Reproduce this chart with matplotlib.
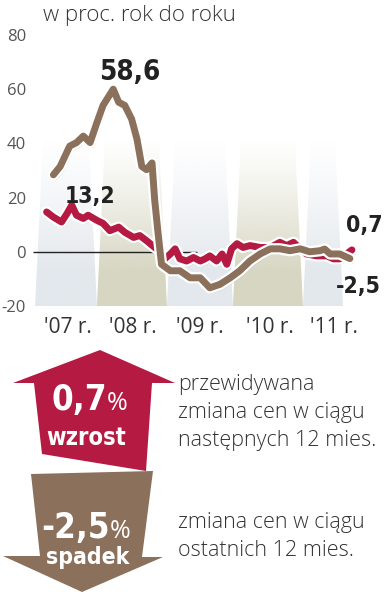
import numpy as np
import matplotlib
matplotlib.use("Agg")
import matplotlib.pyplot as plt
import matplotlib.patheffects as pe
from matplotlib import font_manager as fm
from matplotlib.patches import Polygon


def has_font(name):
    try:
        fm.findfont(fm.FontProperties(family=name), fallback_to_default=False)
        return True
    except ValueError:
        return False


# bold condensed face for the numbers, if there is one
narrow = sorted(f.fname for f in fm.fontManager.ttflist
                if ("ondensed" in f.fname or "Narrow" in f.fname)
                and "Bold" in f.fname and "Italic" not in f.fname
                and "Oblique" not in f.fname and "Extra" not in f.fname
                and "Semi" not in f.fname)
if narrow:
    COND = dict(fontproperties=fm.FontProperties(fname=narrow[0]))
elif has_font("Roboto"):
    COND = dict(family="Roboto", weight="bold")
else:
    COND = dict(family="Liberation Sans", weight="bold")
LIGHT = "Open Sans" if has_font("Open Sans") else "DejaVu Sans"

# --- data ---
brown_x = [2007.30, 2007.40, 2007.54, 2007.64, 2007.74, 2007.84, 2007.94, 2008.03,
           2008.18, 2008.26, 2008.35, 2008.45, 2008.53, 2008.60, 2008.67, 2008.75,
           2008.79, 2008.84, 2008.89, 2009.02, 2009.16, 2009.31, 2009.46, 2009.60,
           2009.75, 2009.90, 2010.04, 2010.19, 2010.34, 2010.49, 2010.63, 2010.78,
           2010.93, 2011.07, 2011.22, 2011.29, 2011.37, 2011.51, 2011.66]
brown_y = [28.4, 31.5, 39.0, 40.3, 42.7, 40.3, 47.7, 54.0,
           60.0, 55.2, 54.0, 49.0, 41.5, 31.5, 30.3, 32.8,
           19.0, 6.7, -4.6, -7.0, -7.0, -9.6, -9.6, -13.3,
           -12.0, -9.6, -7.0, -3.4, -0.8, 1.1, 1.1, 0.4,
           1.1, 0.0, 0.4, 1.0, -0.8, -0.8, -2.5]

red_x = [2007.20, 2007.30, 2007.42, 2007.50, 2007.57, 2007.64, 2007.74, 2007.81,
         2007.94, 2008.03, 2008.13, 2008.26, 2008.35, 2008.48, 2008.57, 2008.67,
         2008.79, 2008.87, 2008.94, 2009.02, 2009.09, 2009.16, 2009.26, 2009.36,
         2009.46, 2009.53, 2009.60, 2009.70, 2009.78, 2009.85, 2009.92, 2010.00,
         2010.09, 2010.19, 2010.34, 2010.49, 2010.63, 2010.73, 2010.83, 2010.93,
         2011.02, 2011.17, 2011.32, 2011.42, 2011.51, 2011.61, 2011.69]
red_y = [14.7, 12.8, 11.0, 14.1, 17.2, 13.5, 12.3, 13.5,
         11.6, 10.5, 7.8, 9.1, 7.2, 5.3, 6.0, 4.1,
         1.6, 0.4, -2.6, -0.8, 1.1, -2.6, -3.4, -2.1,
         -3.4, -2.6, -1.5, -3.4, -0.8, -4.6, 1.1, 3.0,
         1.6, 2.3, 1.6, 1.6, 3.5, 2.3, 3.5, 1.1,
         -0.8, -1.5, -1.5, -2.6, -2.6, -0.8, 0.7]

year_ticks = [2007.52, 2008.47, 2009.46, 2010.49, 2011.42]
year_labels = ["'07 r.", "'08 r.", "'09 r.", "'10 r.", "'11 r."]
y_ticks = [-20, 0, 20, 40, 60, 80]

band_lo = [2007.03, 2007.94, 2008.97, 2009.94, 2010.97]
band_hi = [2007.94, 2008.97, 2009.94, 2010.97, 2011.56]

RED = "#b51a42"
BROWN = "#8b705b"
TXT = "#333333"

W, H = 385, 592
fig = plt.figure(figsize=(W / 100, H / 100), dpi=100)

# chart axes, placed in pixels
x0, x1, ytop, ybot = 33, 385, 35, 306
ax = fig.add_axes([x0 / W, 1 - ybot / H, (x1 - x0) / W, (ybot - ytop) / H])
ax.set_xlim(2007, 2007 + (x1 - x0) / 68)
ax.set_ylim(-20, 80)
for s in ax.spines.values():
    s.set_visible(False)

# slanted, fading background bands
top = 42
inset = 0.12
band_cols = ["#e3e8ed", "#d7d6c2"]
for i, (lo, hi) in enumerate(zip(band_lo, band_hi)):
    rgb = np.array(matplotlib.colors.to_rgb(band_cols[i % 2]))
    ys = np.linspace(0, 1, 200)[:, None]
    alpha = np.clip(1.25 - 1.25 * ys, 0, 1) ** 1.2
    img = np.zeros((200, 2, 4))
    img[..., :3] = rgb
    img[..., 3] = alpha
    poly = Polygon([(lo, -20), (hi, -20), (hi - inset, top), (lo + inset, top)],
                   closed=True, facecolor="none", edgecolor="none",
                   transform=ax.transData)
    ax.add_patch(poly)
    im = ax.imshow(img, extent=(lo, hi, -20, top), origin="lower",
                   aspect="auto", zorder=0.5, interpolation="bilinear")
    im.set_clip_path(poly)

ax.hlines(0, 2007.0, 2009.41, color="#222222", lw=1.0, zorder=1)

line_fx = [pe.SimpleLineShadow(offset=(1, -1.5), shadow_color="#888888", alpha=0.35),
           pe.Stroke(linewidth=8.2, foreground="white"), pe.Normal()]
ax.plot(red_x, red_y, color=RED, lw=5.0, solid_capstyle="round",
        solid_joinstyle="round", path_effects=line_fx, zorder=3)
ax.plot(brown_x, brown_y, color=BROWN, lw=5.0, solid_capstyle="round",
        solid_joinstyle="round", path_effects=line_fx, zorder=4)

lab = dict(color="#222222", ha="center", va="center", zorder=6, **COND)
ax.text(2008.43, 66.5, "58,6", fontsize=20, **lab)
ax.text(2007.84, 20.3, "13,2", fontsize=16.5, **lab)
ax.text(2011.87, 9.8, "0,7", fontsize=16.5, **lab)
ax.text(2011.78, -12.7, "-2,5", fontsize=16.5, **lab)

ax.set_yticks(y_ticks)
ax.set_yticklabels([str(v) for v in y_ticks], family=LIGHT, fontsize=12, color="#555555")
ax.set_xticks(year_ticks)
ax.set_xticklabels(year_labels, family=LIGHT, fontsize=15, color=TXT)
ax.tick_params(axis="y", length=0, pad=5)
ax.tick_params(axis="x", length=0, pad=8)

fig.text(43 / W, 1 - 16 / H, "w proc. rok do roku", family=LIGHT, weight="light",
         fontsize=16, color=TXT, ha="left", va="center")

# lower panel: arrows and text, in pixel coordinates
ov = fig.add_axes([0, 0, 1, 1])
ov.set_xlim(0, W)
ov.set_ylim(H, 0)
ov.axis("off")
ov.patch.set_alpha(0)

up = [(100, 350), (175, 383), (152, 383), (146, 471), (42, 454), (34, 383), (13, 383)]
down = [(31, 474), (153, 471), (142, 557), (163, 557), (82, 592), (3, 556), (40, 556)]
ov.add_patch(Polygon(up, closed=True, facecolor=RED, edgecolor="none"))
ov.add_patch(Polygon(down, closed=True, facecolor=BROWN, edgecolor="none"))

num = dict(color="white", va="baseline", **COND)
pct = dict(family=LIGHT, color="white", va="baseline", fontsize=18)
ov.text(107, 410, "0,7", ha="right", fontsize=25, **num)
ov.text(107, 410, "%", ha="left", **pct)
ov.text(86, 445, "wzrost", ha="center", fontsize=17, **num)
ov.text(110, 538, "-2,5", ha="right", fontsize=25, **num)
ov.text(110, 538, "%", ha="left", **pct)
ov.text(88, 564, "spadek", ha="center", fontsize=16.5, **num)

side = dict(family=LIGHT, weight="light", color=TXT, fontsize=15.5, ha="left",
            va="baseline")
ov.text(178, 390, "przewidywana", **side)
ov.text(178, 418, "zmiana cen w ciągu", **side)
ov.text(178, 446, "następnych 12 mies.", **side)
ov.text(178, 528, "zmiana cen w ciągu", **side)
ov.text(178, 556, "ostatnich 12 mies.", **side)

fig.savefig("out.png", dpi=100)
